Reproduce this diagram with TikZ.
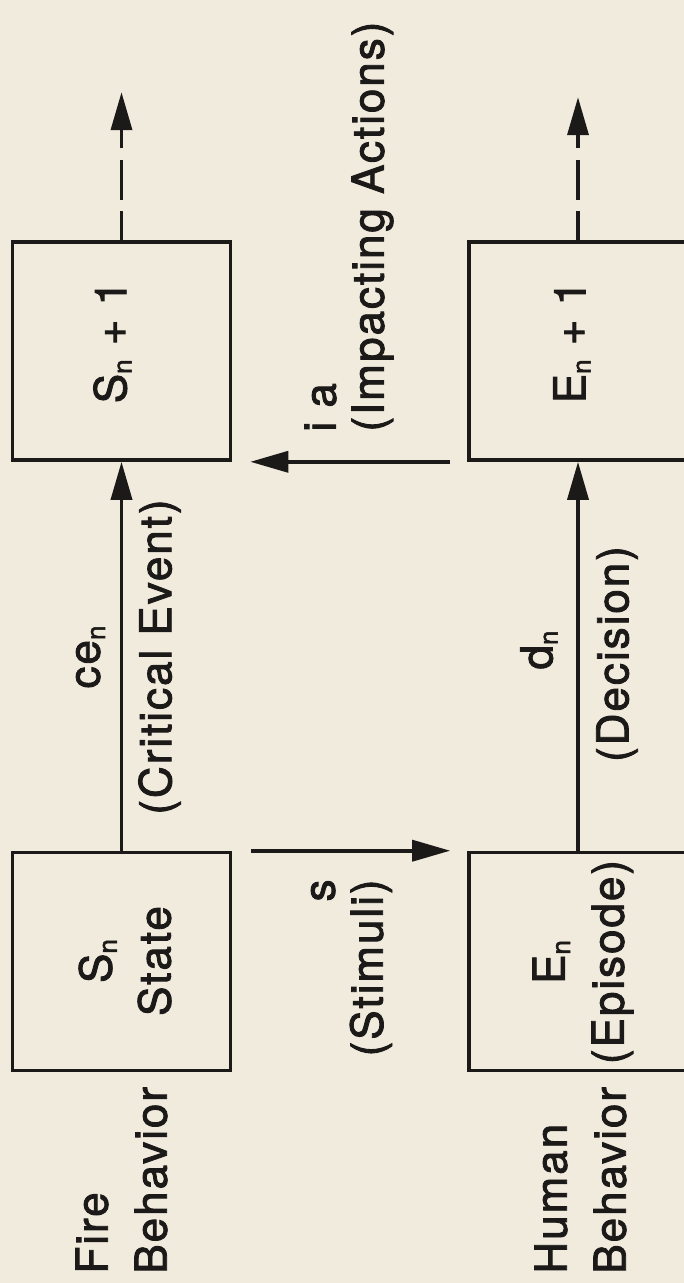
\documentclass[tikz,border=0pt]{standalone}
\usepackage{fontspec}
\setmainfont{TeX Gyre Heros}[LetterSpace=4.5,FakeBold=2]
\usetikzlibrary{arrows.meta,calc}
\definecolor{paper}{RGB}{241,235,222}
\definecolor{ink}{RGB}{28,26,24}
% small, slightly lowered index letter
\newcommand\subn{\raisebox{-0.12em}{\fontsize{13}{13}\selectfont n}}
\begin{document}
\begin{tikzpicture}[x=0.5pt,y=-0.5pt,
  every node/.style={text=ink, inner sep=0pt, font=\fontsize{22}{24}\selectfont},
  stage/.style={draw=ink, line width=1.8pt, minimum width=109pt, minimum height=109pt},
  flow/.style={draw=ink, line width=1.8pt, -{Triangle[length=19pt,width=10.5pt]}},
  onward/.style={flow, dash pattern=on 14.5pt off 5.5pt on 20pt off 6pt on 80pt},
  vtext/.style={rotate=90},
  wide/.style={font=\fontsize{22}{29.5}\selectfont}]
\fill[paper] (0,0) rectangle (684,1283);
\useasboundingbox (0,0) rectangle (684,1283);

% the four stages
\node[stage] (C) at (121.5,351) {};
\node[stage] (D) at (578,351) {};
\node[stage] (A) at (121.5,961.5) {};
\node[stage] (B) at (578,961.5) {};

% texts inside the stages
\node[vtext] (tC) at (112.5,342) {S\subn\ + 1};
\node[vtext] (tD) at (572,342) {E\subn\ + 1};
\node[vtext, wide, align=center] (tA) at (125,961) {S\subn\\State};
\node[vtext, wide, align=center] (tB) at (583,962) {E\subn\\(Episode)};

% row titles
\node[vtext, wide, align=left, anchor=west] (fire) at (121.5,1274) {Fire\\Behavior};
\node[vtext, wide, align=left, anchor=west] (human) at (580.5,1274) {Human\\Behavior};

% transitions
\draw[flow] (A.north) -- (C.south);
\draw[flow] (B.north) -- (D.south);
\draw[flow] ($(A.north east)+(19,0)$) -- ($(B.north west)+(-17,0)$);
\draw[flow] ($(D.south west)+(-17,0)$) -- ($(C.south east)+(18,0)$);

% continuation beyond the next stage
\coordinate (cOut) at ($(C.north)+(0,-148)$);
\coordinate (dOut) at ($(D.north)+(0,-143)$);
\draw[onward] (C.north) -- (cOut);
\draw[onward] (D.north) -- (dOut);

% transition labels
\node[vtext] (ce) at (90.5,657) {ce\subn};
\node[vtext] (ceName) at (159.5,657) {(Critical Event)};
\node[vtext] (dn) at (539,650) {d\subn};
\node[vtext] (dName) at (617,654) {(Decision)};
\node[vtext, align=right, anchor=east] (stim) at (351.5,879) {s\\(Stimuli)};
\node[vtext, align=left, anchor=west] (act) at (349,432) {i a\\(Impacting Actions)};
\end{tikzpicture}
\end{document}
